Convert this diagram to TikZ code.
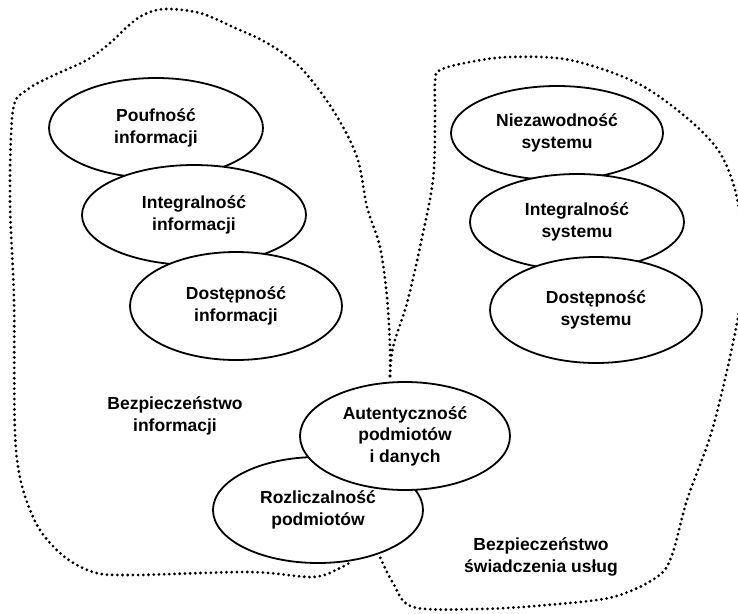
\documentclass[tikz,border=0pt]{standalone}
\usepackage{fontspec}
\setmainfont{Liberation Sans}
\usetikzlibrary{shapes.geometric}
\begin{document}
\begin{tikzpicture}[x=1pt,y=-1pt,
  oval/.style={draw=black, fill=white, ellipse, line width=1.8pt, inner sep=0pt,
    align=center, font=\fontsize{17.5}{21.5}\selectfont\bfseries},
  region/.style={line width=3.1pt, line cap=round, dash pattern=on 0pt off 5.2pt, black},
  lbl/.style={align=center, font=\fontsize{17.5}{22.5}\selectfont\bfseries}]
\useasboundingbox (0,0) rectangle (738,613);
% regions
\draw[region] plot[smooth, tension=0.55] coordinates {(390,376) (390,347) (387,297) (380,247) (367,207) (357,157) (333,110) (300,67) (267,43) (233,27) (200,13) (165,9) (143,15) (127,27) (110,43) (87,60) (50,77) (27,90) (13,110) (10,200) (14,300) (16,450) (33,517) (60,553) (93,572) (133,575) (250,572) (313,577) (340,568) (352,561)};
\draw[region] plot[smooth, tension=0.55] coordinates {(390,376) (393,347) (407,303) (420,247) (433,180) (435,120) (435,82) (440,70) (470,62) (510,57) (570,60) (637,83) (687,118) (720,153) (737,198) (744,260) (737,323) (713,427) (687,500) (672,555) (657,577) (613,597) (547,605) (480,609) (413,607) (393,583) (380,557)};
% left column
\node[oval, minimum width=214pt, minimum height=100pt] (pouf) at (156,128) {Poufność\\informacji};
\node[oval, minimum width=224pt, minimum height=100pt] (intinf) at (194,215) {Integralność\\informacji};
\node[oval, minimum width=212pt, minimum height=108pt] (dostinf) at (236,306) {Dostępność\\informacji};
% right column
\node[oval, minimum width=212pt, minimum height=94pt] (niez) at (557,133) {Niezawodność\\systemu};
\node[oval, minimum width=214pt, minimum height=96pt] (intsys) at (577,222) {Integralność\\systemu};
\node[oval, minimum width=212pt, minimum height=106pt] (dostsys) at (596,310) {Dostępność\\systemu};
% bottom
\node[oval, minimum width=210pt, minimum height=106pt] (rozl) at (318,510) {Rozliczalność\\podmiotów};
\node[oval, minimum width=210pt, minimum height=108pt] (aut) at (405,436) {Autentyczność\\podmiotów\\i danych};
% labels
\node[lbl] (binf) at (175,416) {Bezpieczeństwo\\informacji};
\node[lbl] (busl) at (541,557) {Bezpieczeństwo\\świadczenia usług};
\end{tikzpicture}
\end{document}
